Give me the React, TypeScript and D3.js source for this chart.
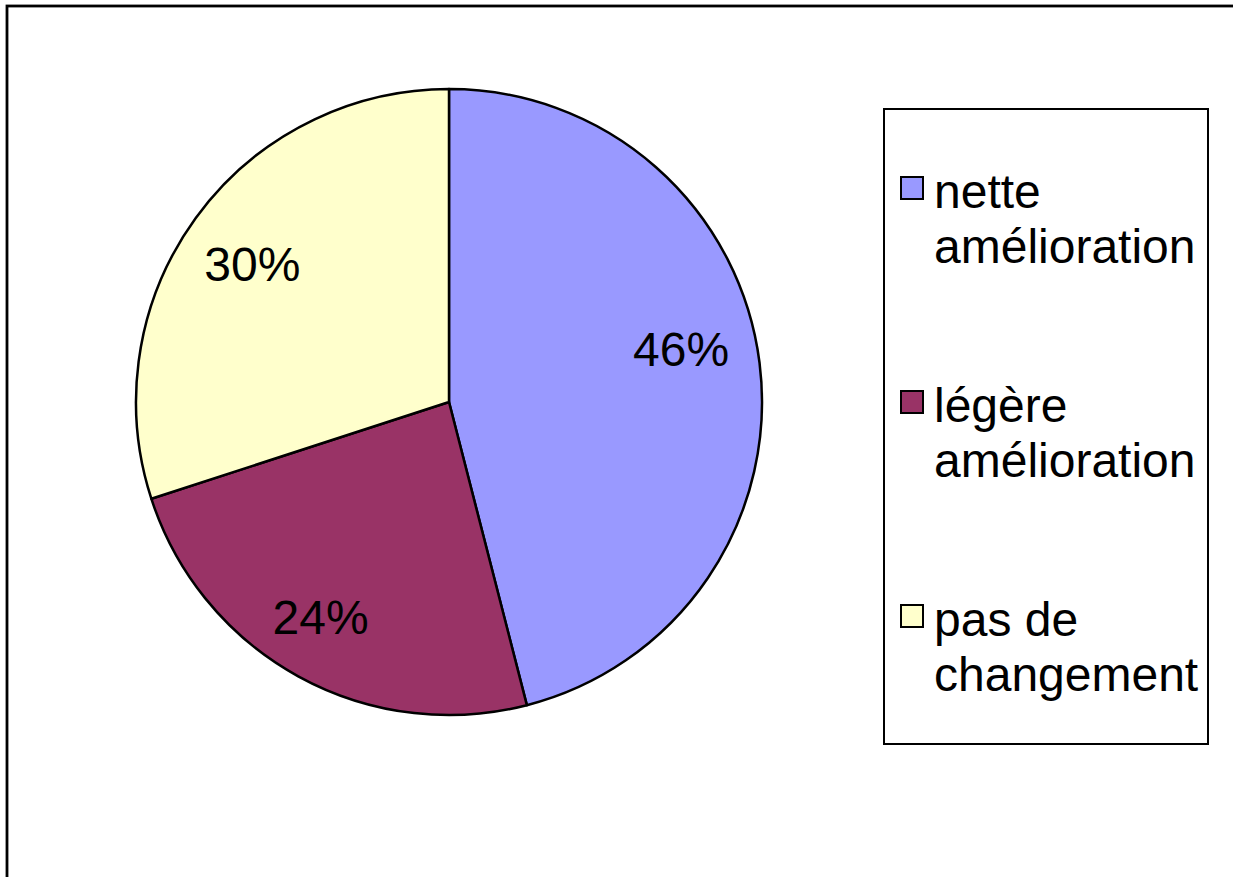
import React from "react";
import * as d3 from "d3";

const categories = ["nette amélioration", "légère amélioration", "pas de changement"];
const legendLines = [["nette", "amélioration"], ["légère", "amélioration"], ["pas de", "changement"]];
const values = [46, 24, 30];
const colors = ["#9999FF", "#993366", "#FFFFCC"];

const W = 1233;
const H = 877;
const FONT = "'Liberation Sans', Arial, Helvetica, sans-serif";

export default function App() {
  const cx = 449;
  const cy = 402;
  const r = 313;
  const pie = d3.pie<number>().sort(null).value((d) => d)(values);
  const arc = d3.arc<d3.PieArcDatum<number>>().innerRadius(0).outerRadius(r);
  const labelArc = d3.arc<d3.PieArcDatum<number>>().innerRadius(248).outerRadius(248);
  const total = d3.sum(values);
  const labelAdj: [number, number][] = [[-14, -21], [-9, -2], [4, 8]];

  const legX = 884, legY = 109, legW = 324, legH = 635;
  const entryY = d3.scaleLinear().domain([0, categories.length - 1]).range([208, 636]);

  return (
    <svg width={W} height={H} style={{ position: "absolute", left: 0, top: 0, background: "#fff" }}>
      <rect x={7} y={6} width={1260} height={900} fill="#fff" stroke="#000" strokeWidth={2.8} />
      <g transform={`translate(${cx},${cy})`}>
        {pie.map((p, i) => (
          <path key={i} d={arc(p) || ""} fill={colors[i]} stroke="#000" strokeWidth={2.5} strokeLinejoin="round" />
        ))}
        {pie.map((p, i) => {
          const [lx, ly] = labelArc.centroid(p);
          return (
            <text key={"l" + i} x={lx + labelAdj[i][0]} y={ly + labelAdj[i][1]} textAnchor="middle" dominantBaseline="central"
              fontFamily={FONT} fontSize={48} fill="#000">
              {Math.round((values[i] / total) * 100)}%
            </text>
          );
        })}
      </g>
      <rect x={legX} y={legY} width={legW} height={legH} fill="#fff" stroke="#000" strokeWidth={2} />
      {categories.map((c, i) => {
        const by = entryY(i);
        return (
          <g key={c}>
            <rect x={901} y={by - 31} width={22} height={22} fill={colors[i]} stroke="#000" strokeWidth={2} />
            <text x={934} y={by} fontFamily={FONT} fontSize={48} fill="#000">
              <tspan x={934} y={by}>{legendLines[i][0]}</tspan>
              <tspan x={934} y={by + 55}>{legendLines[i][1]}</tspan>
            </text>
          </g>
        );
      })}
    </svg>
  );
}
